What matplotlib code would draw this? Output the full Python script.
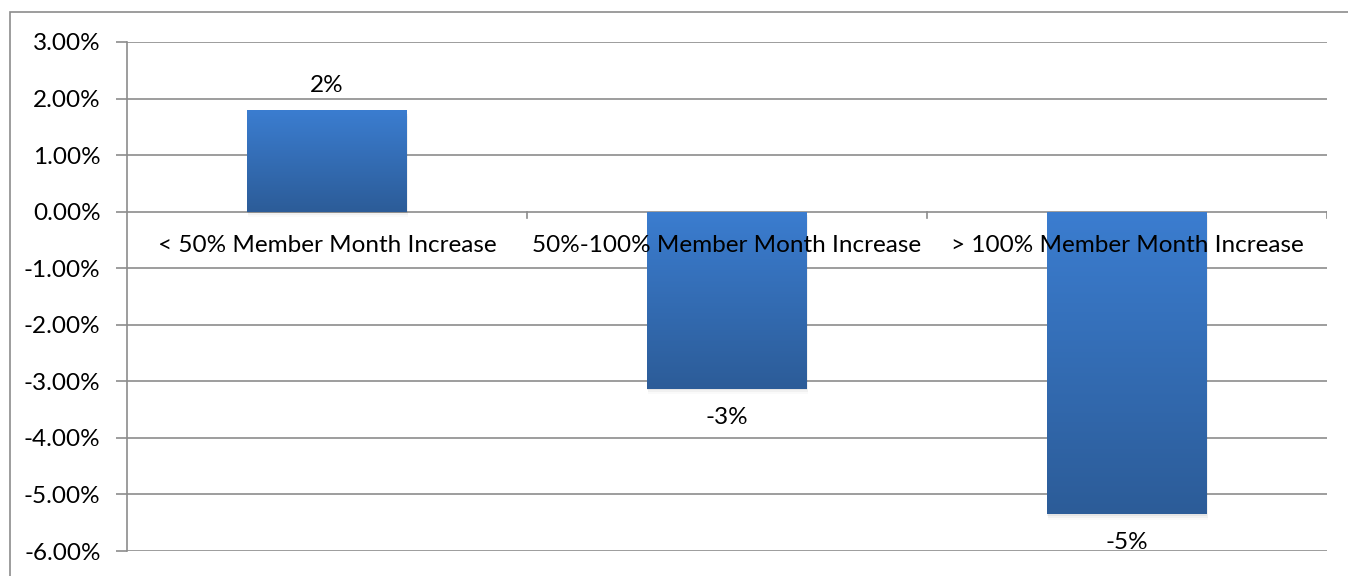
import numpy as np
import matplotlib.pyplot as plt
from matplotlib.patches import Rectangle
from matplotlib.colors import LinearSegmentedColormap

categories = ["< 50% Member Month Increase",
              "50%-100% Member Month Increase",
              "> 100% Member Month Increase"]
values = [1.79, -3.13, -5.35]
labels = ["2%", "-3%", "-5%"]
yticks = [3, 2, 1, 0, -1, -2, -3, -4, -5, -6]

W, H = 1348, 576
plt.rcParams['font.family'] = ['Lato', 'DejaVu Sans']
FS = 17.5

fig = plt.figure(figsize=(W / 100, H / 100), dpi=100)
# outer chart border (bottom and right run off the picture)
fig.patches.append(Rectangle((10 / W, -0.05), 1.2, 1 - 12 / H + 0.05, transform=fig.transFigure,
                             fill=False, edgecolor='#8c8c8c', linewidth=1.2))

ax = fig.add_axes([127 / W, 1 - 551 / H, 1200 / W, 509 / H])
ax.set_xlim(0, 3)
ax.set_ylim(-6, 3)

grid_c = '#8c8c8c'
for y in yticks:
    ax.axhline(y, color=grid_c, linewidth=1.2, zorder=1)
for s in ['top', 'right', 'bottom']:
    ax.spines[s].set_visible(False)
ax.spines['left'].set_color(grid_c)
ax.spines['left'].set_linewidth(1.2)

ax.set_yticks(yticks)
ax.set_yticklabels(['%.2f%%' % y for y in yticks], fontsize=FS)
ax.tick_params(axis='y', length=8, color=grid_c, width=1.2, pad=11)
ax.set_xticks([])

# category boundary ticks on the zero line
for xb in [1, 2, 3]:
    ax.plot([xb, xb], [0, -0.12], color=grid_c, linewidth=1.2, zorder=2)

grad = np.linspace(0, 1, 256).reshape(-1, 1)
cmap = LinearSegmentedColormap.from_list('bar', ['#2c5c98', '#3b7dd0'])

bw = 0.4
for i, v in enumerate(values):
    x0 = i + 0.5 - bw / 2
    lo, hi = min(0, v), max(0, v)
    # soft shadow
    for k, a in enumerate([0.05, 0.035, 0.02]):
        off = 0.004 * (k + 1)
        ax.add_patch(Rectangle((x0 + off * 0.2, lo - off * 8), bw, hi - lo,
                               facecolor='black', alpha=a, edgecolor='none', zorder=2))
    rect = Rectangle((x0, lo), bw, hi - lo, facecolor='none', edgecolor='none', zorder=3)
    ax.add_patch(rect)
    im = ax.imshow(grad, extent=(x0, x0 + bw, lo, hi), origin='lower', cmap=cmap,
                   aspect='auto', zorder=3)
    im.set_clip_path(rect)
    if v > 0:
        ax.text(i + 0.5, v + 0.26, labels[i], ha='center', va='bottom', fontsize=FS)
    else:
        ax.text(i + 0.5, v - 0.32, labels[i], ha='center', va='top', fontsize=FS)

for i, c in enumerate(categories):
    ax.text(i + 0.5, -0.6, c, ha='center', va='center', fontsize=FS, zorder=4)

ax.set_xlim(0, 3)
ax.set_ylim(-6, 3)
fig.savefig('out.png', dpi=100)
